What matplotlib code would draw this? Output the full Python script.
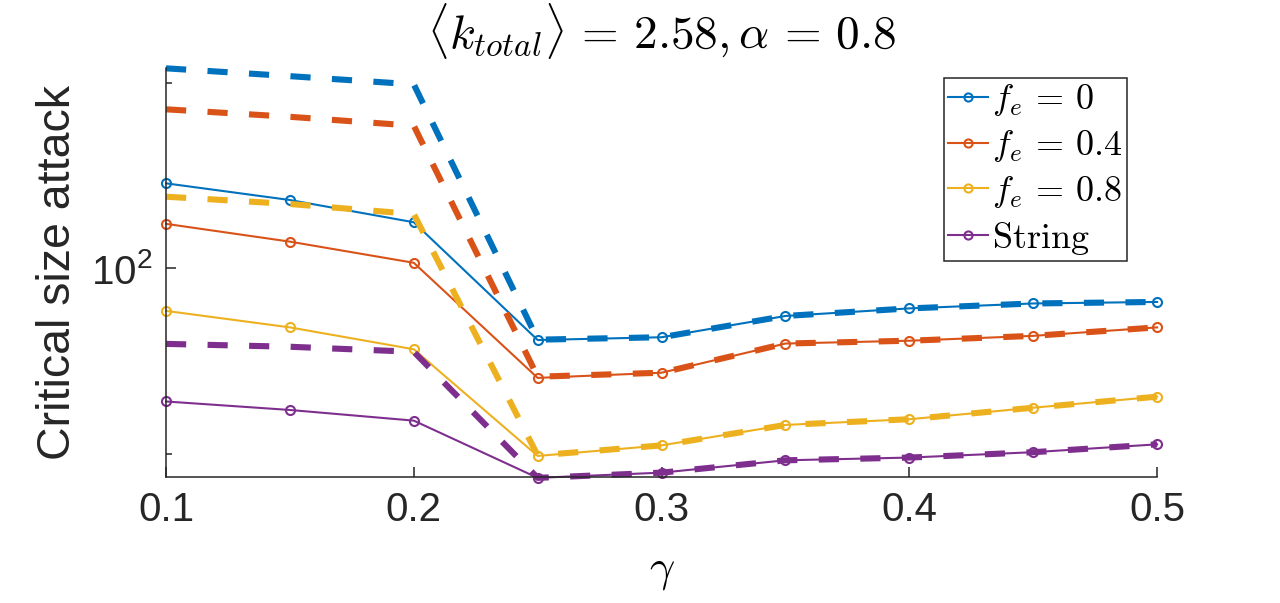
import numpy as np
import matplotlib
matplotlib.use('Agg')
import matplotlib.pyplot as plt
from matplotlib.ticker import FixedLocator, NullFormatter

plt.rcParams['mathtext.fontset'] = 'cm'
plt.rcParams['font.family'] = 'Liberation Sans'

# data
gamma = [0.1, 0.15, 0.2, 0.25, 0.3, 0.35, 0.4, 0.45, 0.5]

fe0_solid = [137.4, 129.1, 118.8, 76.5, 77.3, 83.7, 86.1, 87.7, 88.2]
fe04_solid = [118.1, 110.5, 102.1, 66.4, 67.7, 75.5, 76.3, 77.7, 80.2]
fe08_solid = [85.3, 80.2, 73.9, 49.6, 51.6, 55.7, 56.9, 59.4, 61.9]
string_solid = [60.8, 58.9, 56.6, 45.7, 46.6, 48.8, 49.3, 50.3, 51.8]

fe0_dash = [211.2, 205.1, 198.9, 76.6, 77.3, 83.7, 86.1, 87.7, 88.2]
fe04_dash = [181.2, 176.2, 170.4, 66.7, 67.7, 75.5, 76.3, 77.7, 80.2]
fe08_dash = [130.7, 127.2, 122.5, 49.7, 51.6, 55.7, 56.9, 59.4, 61.9]
string_dash = [75.4, 74.6, 73.2, 45.7, 46.6, 48.8, 49.3, 50.3, 51.8]

labels = [r'$f_e\,=\,0$', r'$f_e\,=\,0.4$', r'$f_e\,=\,0.8$', r'$\mathrm{String}$']
colors = ['#0072BD', '#D95319', '#EDB120', '#7E2F8E']

fig = plt.figure(figsize=[12.8, 6.03], dpi=100)
ax = fig.add_axes([0.1297, 0.2085, 0.904 - 0.1297, 0.8867 - 0.2085])

solids = [fe0_solid, fe04_solid, fe08_solid, string_solid]
dashes = [fe0_dash, fe04_dash, fe08_dash, string_dash]

for ys, c, lab in zip(solids, colors, labels):
    ax.plot(gamma, ys, '-o', color=c, linewidth=1.5, markersize=6.5,
            markerfacecolor='none', markeredgewidth=1.5, label=lab, clip_on=False)
for ys, c in zip(dashes, colors):
    ax.plot(gamma, ys, '--', color=c, linewidth=4.4, dashes=(3.3, 3.5), clip_on=False)

ax.set_yscale('log')
ax.set_xlim(0.1, 0.5)
ax.set_ylim(45.8, 211.2)

ax.yaxis.set_major_locator(FixedLocator([100]))
ax.yaxis.set_minor_locator(FixedLocator([50, 200]))
ax.yaxis.set_minor_formatter(NullFormatter())
ax.set_yticklabels([r'$\mathdefault{10^{2}}$'])
ax.set_xticks([0.1, 0.2, 0.3, 0.4, 0.5])
ax.set_xticklabels(['0.1', '0.2', '0.3', '0.4', '0.5'])

for s in ['top', 'right']:
    ax.spines[s].set_visible(False)
for s in ['left', 'bottom']:
    ax.spines[s].set_color('#262626')
    ax.spines[s].set_linewidth(1.1)

ax.tick_params(which='both', direction='in', colors='#262626', labelsize=29, width=1.1)
ax.tick_params(which='major', length=7, pad=10)
ax.tick_params(which='minor', length=4)

ax.set_xlabel(r'$\gamma$', fontsize=32, labelpad=16)
ax.set_ylabel('Critical size attack', fontsize=33.5, color='#262626', labelpad=8)
ax.set_title(r'$\langle k_{total}\rangle\,=\,2.58, \alpha\,=\,0.8$', fontsize=34, pad=14)

leg = ax.legend(loc='upper left', bbox_to_anchor=(0.785, 0.976), fontsize=26,
                handlelength=1.1, handletextpad=0.12, borderpad=0.12,
                labelspacing=0.27, borderaxespad=0, fancybox=False, framealpha=1,
                markerscale=0.9)
leg.get_frame().set_edgecolor('#262626')
leg.get_frame().set_linewidth(1.1)

plt.savefig('out.png', dpi=100)
